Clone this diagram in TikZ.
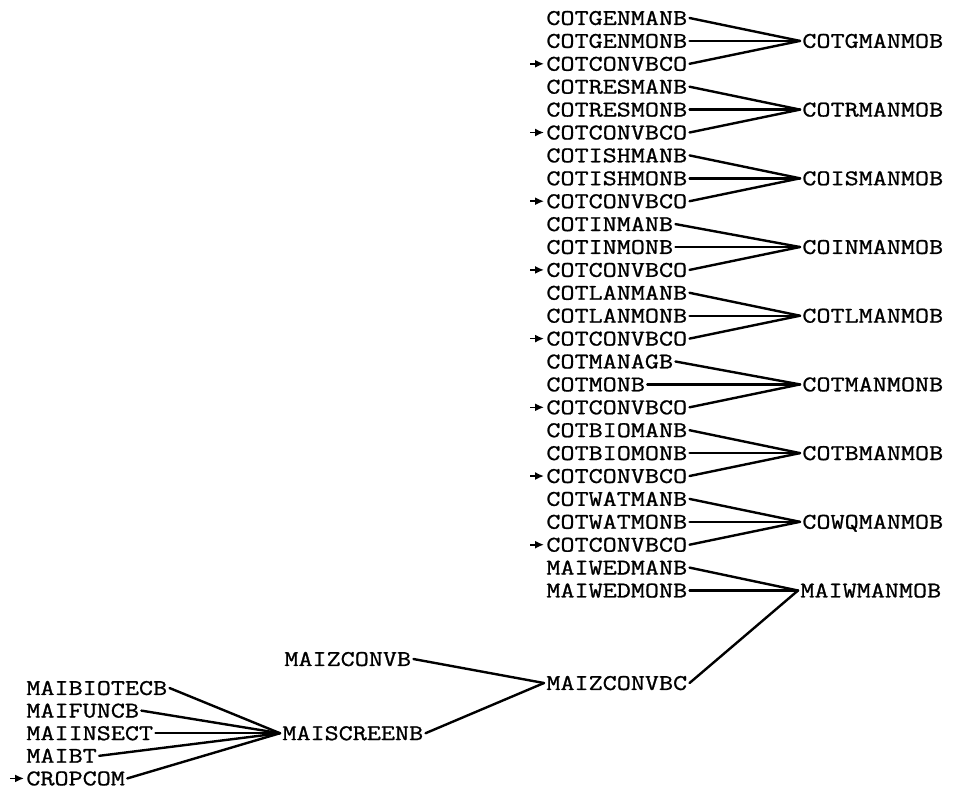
\documentclass[tikz,border=0pt]{standalone}
\usepackage{fontspec}
\newfontfamily\cropfont[FakeStretch=1.22,FakeBold=1]{Latin Modern Mono}
\usetikzlibrary{positioning,arrows.meta}

\begin{document}
\begin{tikzpicture}[
x=0.5pt,y=-0.5pt,
var/.style={
inner sep=1pt,
anchor=west,
text height=6.9pt,
text depth=0pt,
font=\cropfont\fontsize{11.2}{13}\selectfont
},
link/.style={
line width=1.2pt,
line cap=round
},
feed/.style={
-{Latex[length=4.5pt,width=4pt]},
line width=0.8pt
}
]

\useasboundingbox (0,0) rectangle (956,799);

% cotton groups
\node[var] (gman) at (544,18) {COTGENMANB};
\node[var] (gmon) at (544,40.9) {COTGENMONB};
\node[var] (cv1) at (544,63.8) {COTCONVBCO};
\node[var] (gmob) at (800,40.9) {COTGMANMOB};

\node[var] (rman) at (544,86.7) {COTRESMANB};
\node[var] (rmon) at (544,109.6) {COTRESMONB};
\node[var] (cv2) at (544,132.5) {COTCONVBCO};
\node[var] (rmob) at (800,109.6) {COTRMANMOB};

\node[var] (iman) at (544,155.4) {COTISHMANB};
\node[var] (imon) at (544,178.3) {COTISHMONB};
\node[var] (cv3) at (544,201.2) {COTCONVBCO};
\node[var] (ismob) at (800,178.3) {COISMANMOB};

\node[var] (inman) at (544,224.1) {COTINMANB};
\node[var] (inmon) at (544,247) {COTINMONB};
\node[var] (cv4) at (544,269.9) {COTCONVBCO};
\node[var] (inmob) at (800,247) {COINMANMOB};

\node[var] (lman) at (544,292.8) {COTLANMANB};
\node[var] (lmon) at (544,315.7) {COTLANMONB};
\node[var] (cv5) at (544,338.6) {COTCONVBCO};
\node[var] (lmob) at (800,315.7) {COTLMANMOB};

\node[var] (manag) at (544,361.5) {COTMANAGB};
\node[var] (mon) at (544,384.4) {COTMONB};
\node[var] (cv6) at (544,407.3) {COTCONVBCO};
\node[var] (manmon) at (800,384.4) {COTMANMONB};

\node[var] (bman) at (544,430.2) {COTBIOMANB};
\node[var] (bmon) at (544,453.1) {COTBIOMONB};
\node[var] (cv7) at (544,476) {COTCONVBCO};
\node[var] (bmob) at (800,453.1) {COTBMANMOB};

\node[var] (wman) at (544,498.9) {COTWATMANB};
\node[var] (wmon) at (544,521.8) {COTWATMONB};
\node[var] (cv8) at (544,544.7) {COTCONVBCO};
\node[var] (wqmob) at (800,521.8) {COWQMANMOB};

% maize
\node[var] (wedman) at (544,567.6) {MAIWEDMANB};
\node[var] (wedmon) at (544,590.5) {MAIWEDMONB};
\node[var] (wmanmob) at (798,590.5) {MAIWMANMOB};

\node[var] (mzb) at (282,659) {MAIZCONVB};
\node[var] (mzbc) at (544,683) {MAIZCONVBC};

\node[var] (biotec) at (24,688) {MAIBIOTECB};
\node[var] (func) at (24,710.6) {MAIFUNCB};
\node[var] (insect) at (24,733.2) {MAIINSECT};
\node[var] (bt) at (24,755.8) {MAIBT};
\node[var] (cropcom) at (24,778.4) {CROPCOM};
\node[var] (screen) at (280,733.2) {MAISCREENB};

% incoming stubs
\coordinate[left=7pt of cv1] (in1);
\coordinate[left=7pt of cv2] (in2);
\coordinate[left=7pt of cv3] (in3);
\coordinate[left=7pt of cv4] (in4);
\coordinate[left=7pt of cv5] (in5);
\coordinate[left=7pt of cv6] (in6);
\coordinate[left=7pt of cv7] (in7);
\coordinate[left=7pt of cv8] (in8);
\coordinate[left=7pt of cropcom] (in9);

\draw[feed] (in1) -- (cv1);
\draw[feed] (in2) -- (cv2);
\draw[feed] (in3) -- (cv3);
\draw[feed] (in4) -- (cv4);
\draw[feed] (in5) -- (cv5);
\draw[feed] (in6) -- (cv6);
\draw[feed] (in7) -- (cv7);
\draw[feed] (in8) -- (cv8);
\draw[feed] (in9) -- (cropcom);

% links
\draw[link] (gman.east) -- (gmob.west);
\draw[link] (gmon.east) -- (gmob.west);
\draw[link] (cv1.east) -- (gmob.west);

\draw[link] (rman.east) -- (rmob.west);
\draw[link] (rmon.east) -- (rmob.west);
\draw[link] (cv2.east) -- (rmob.west);

\draw[link] (iman.east) -- (ismob.west);
\draw[link] (imon.east) -- (ismob.west);
\draw[link] (cv3.east) -- (ismob.west);

\draw[link] (inman.east) -- (inmob.west);
\draw[link] (inmon.east) -- (inmob.west);
\draw[link] (cv4.east) -- (inmob.west);

\draw[link] (lman.east) -- (lmob.west);
\draw[link] (lmon.east) -- (lmob.west);
\draw[link] (cv5.east) -- (lmob.west);

\draw[link] (manag.east) -- (manmon.west);
\draw[link] (mon.east) -- (manmon.west);
\draw[link] (cv6.east) -- (manmon.west);

\draw[link] (bman.east) -- (bmob.west);
\draw[link] (bmon.east) -- (bmob.west);
\draw[link] (cv7.east) -- (bmob.west);

\draw[link] (wman.east) -- (wqmob.west);
\draw[link] (wmon.east) -- (wqmob.west);
\draw[link] (cv8.east) -- (wqmob.west);

\draw[link] (wedman.east) -- (wmanmob.west);
\draw[link] (wedmon.east) -- (wmanmob.west);
\draw[link] (mzbc.east) -- (wmanmob.west);

\draw[link] (mzb.east) -- (mzbc.west);
\draw[link] (screen.east) -- (mzbc.west);

\draw[link] (biotec.east) -- (screen.west);
\draw[link] (func.east) -- (screen.west);
\draw[link] (insect.east) -- (screen.west);
\draw[link] (bt.east) -- (screen.west);
\draw[link] (cropcom.east) -- (screen.west);

\end{tikzpicture}
\end{document}
